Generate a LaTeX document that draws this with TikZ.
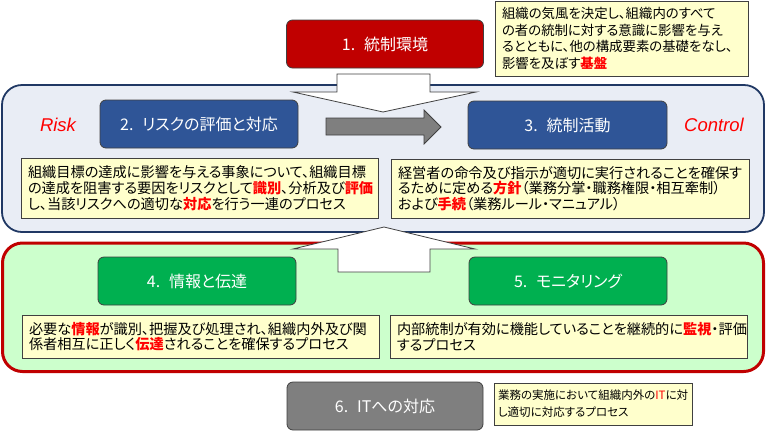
\documentclass[tikz,border=0pt]{standalone}
\usepackage{fontspec}
\setmainfont{Liberation Sans}
\newfontfamily\jp[RawFeature=+palt]{Noto Sans CJK JP}
\definecolor{envred}{HTML}{C00000}
\definecolor{hlred}{HTML}{FF0000}
\definecolor{navy}{HTML}{2F5597}
\definecolor{navyline}{HTML}{203864}
\definecolor{panelblue}{HTML}{E9EDF5}
\definecolor{panelgreen}{HTML}{CCFFCC}
\definecolor{boxgreen}{HTML}{00B050}
\definecolor{boxgray}{HTML}{7F7F7F}
\definecolor{notefill}{HTML}{FFFFCC}
\definecolor{edge}{HTML}{404040}
\newcommand\redw[1]{\textcolor{hlred}{\bfseries #1}}
\newcommand\numsep{.\hspace{0.55em}}
\begin{document}
\begin{tikzpicture}[x=1pt,y=-1pt,
  mainbox/.style={rounded corners=6pt, draw=edge, line width=0.8pt, text=white,
    minimum width=198pt, minimum height=48pt, font=\jp\fontsize{16}{18}\selectfont},
  notebox/.style={draw=edge, fill=notefill, line width=0.8pt, align=left,
    inner xsep=7pt, inner ysep=2pt, font=\jp\fontsize{14.2}{15.8}\selectfont},
  panel/.style={rounded corners=20pt},
  blockarrow/.style={fill=white, draw=edge, line width=0.8pt},
  tag/.style={text=hlred, font=\fontsize{18.5}{20}\selectfont\itshape}
]
\useasboundingbox (0,0) rectangle (768,432);

% panels
\draw[panel, fill=panelblue, draw=navyline, line width=1.8pt] (2,85) rectangle (764,232);
\draw[panel, fill=panelgreen, draw=envred, line width=3pt] (2.5,243) rectangle (763.5,371.5);

% block arrows
\draw[blockarrow] (337,74) -- (430,74) -- (430,92) -- (476,92) -- (383,112) -- (293,92) -- (337,92) -- cycle;
\draw[blockarrow] (384,227) -- (475,249) -- (430,249) -- (430,272) -- (338,272) -- (338,249) -- (293,249) -- cycle;
\draw[fill=boxgray, draw=edge, line width=0.8pt] (326,118) -- (424,118) -- (424,110) -- (441,127) -- (424,144) -- (424,135) -- (326,135) -- cycle;

% main boxes
\node[mainbox, fill=envred, minimum width=197pt] (env) at (385,44) {1\numsep 統制環境};
\node[mainbox, fill=navy] (risk) at (199,124) {2\numsep リスクの評価と対応};
\node[mainbox, fill=navy, minimum width=199pt] (ctrl) at (567.5,125) {3\numsep 統制活動};
\node[mainbox, fill=boxgreen] (info) at (197,281) {4\numsep 情報と伝達};
\node[mainbox, fill=boxgreen] (mon) at (568,281) {5\numsep モニタリング};
\node[mainbox, fill=boxgray, minimum width=196pt] (it) at (385,406) {6\numsep ITへの対応};

% tags
\node[tag] (risktag) at (58,125) {Risk};
\node[tag] (ctrltag) at (714,125) {Control};

% notes
\node[notebox, minimum width=253pt, minimum height=75pt, text width=239pt,
  font=\jp\fontsize{13.4}{16.5}\selectfont] (envnote) at (621.5,38.5)
  {組織の気風を決定し、組織内のすべて\\の者の統制に対する意識に影響を与え\\るとともに、他の構成要素の基礎をなし、\\影響を及ぼす\redw{基盤}};
\node[notebox, minimum width=357pt, minimum height=60pt, text width=343pt] (risknote) at (199.5,188)
  {組織目標の達成に影響を与える事象について、組織目標\\の達成を阻害する要因をリスクとして\redw{識別}、分析及び\redw{評価}\\し、当該リスクへの適切な\redw{対応}を行う一連のプロセス};
\node[notebox, minimum width=358pt, minimum height=59pt, text width=344pt] (ctrlnote) at (570,188.5)
  {経営者の命令及び指示が適切に実行されることを確保す\\るために定める\redw{方針}（業務分掌・職務権限・相互牽制）\\および\redw{手続}（業務ルール・マニュアル）};
\node[notebox, minimum width=357pt, minimum height=43pt, text width=343pt] (infonote) at (200.5,336.5)
  {必要な\redw{情報}が識別、把握及び処理され、組織内外及び関\\係者相互に正しく\redw{伝達}されることを確保するプロセス};
\node[notebox, minimum width=357pt, minimum height=43pt, text width=343pt] (monnote) at (568.5,336.5)
  {内部統制が有効に機能していることを継続的に\redw{監視}・評価\\するプロセス};
\node[notebox, minimum width=198pt, minimum height=42pt, text width=190pt,
  inner xsep=4pt, font=\jp\fontsize{11.5}{17}\selectfont] (itnote) at (593,404)
  {業務の実施において組織内外の\textcolor{hlred}{IT}に対\\し適切に対応するプロセス};
\end{tikzpicture}
\end{document}
